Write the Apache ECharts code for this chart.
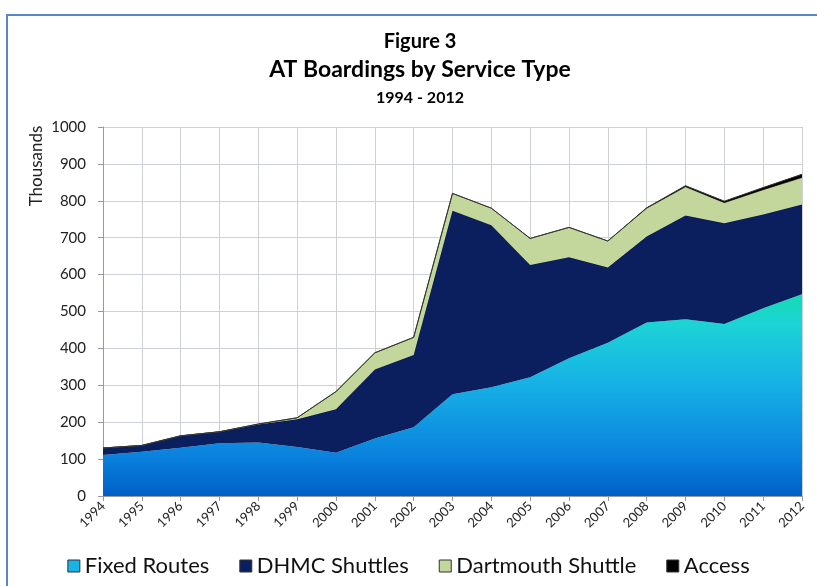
<!DOCTYPE html>
<html>
<head>
<meta charset="utf-8">
<script src="https://cdn.jsdelivr.net/npm/echarts@6/dist/echarts.min.js"></script>
<style>
html,body{margin:0;padding:0;background:#fff;}
#chart{width:817px;height:586px;}
</style>
</head>
<body>
<div id="chart"></div>
<script>
var years = ['1994','1995','1996','1997','1998','1999','2000','2001','2002','2003','2004','2005','2006','2007','2008','2009','2010','2011','2012'];
var fixedRoutes = [111,120,131,143,145,133,117,156,186,276,295,322,373,415,470,479,466,509,547];
var dhmcShuttles = [19,17,32,31,49,75,118,187,196,497,439,304,274,204,233,281,273,254,243];
var dartmouthShuttle = [0,0,0,0,1,4,48,45,48,47,46,72,81,72,77,78,56,67,73];
var access = [0,0,0,0,0,0,0,0,0,0,0,0,0,0,1,3,4,6,9];
var yTicks = [0,100,200,300,400,500,600,700,800,900,1000];

var FONT = 'Lato, "Noto Sans", sans-serif';
var chart = echarts.init(document.getElementById('chart'), null, {renderer:'canvas'});
var fixedGrad = new echarts.graphic.LinearGradient(0,0,0,1,[
  {offset:0, color:'#14dcb2'},
  {offset:0.15, color:'#1cd3d6'},
  {offset:0.45, color:'#16b0e6'},
  {offset:0.8, color:'#0a82de'},
  {offset:1, color:'#0060c6'}
]);
chart.setOption({
  animation:false,
  backgroundColor:'#ffffff',
  graphic:[
    {type:'rect', shape:{x:7,y:15,width:830,height:620}, style:{fill:'none', stroke:'#5a86c4', lineWidth:2}, silent:true},
    {type:'text', x:420, y:42, style:{text:'Figure 3', font:'bold 20px '+FONT, fill:'#000', textAlign:'center', textVerticalAlign:'middle'}},
    {type:'text', x:420, y:70, style:{text:'AT Boardings by Service Type', font:'bold 23px '+FONT, fill:'#000', textAlign:'center', textVerticalAlign:'middle'}},
    {type:'text', x:420, y:98, style:{text:'1994 - 2012', font:'bold 16px '+FONT, fill:'#000', textAlign:'center', textVerticalAlign:'middle'}},
    {type:'text', x:37, y:166, rotation:Math.PI/2, style:{text:'Thousands', font:'17px '+FONT, fill:'#222', textAlign:'center', textVerticalAlign:'middle'}}
  ],
  grid:{left:103, right:15, top:127, bottom:90, containLabel:false},
  legend:{
    bottom:4, left:'center', icon:'rect', itemWidth:12, itemHeight:12, itemGap:30,
    textStyle:{fontFamily:FONT, fontSize:22, color:'#111'},
    itemStyle:{borderColor:'#333', borderWidth:1},
    data:['Fixed Routes','DHMC Shuttles','Dartmouth Shuttle','Access']
  },
  xAxis:{
    type:'category', data:years, boundaryGap:false,
    axisLine:{lineStyle:{color:'#9a9a9a'}},
    axisTick:{show:true, length:5, lineStyle:{color:'#9a9a9a'}},
    axisLabel:{rotate:45, fontFamily:FONT, fontSize:13, color:'#222', margin:8},
    splitLine:{show:true, lineStyle:{color:'#cdd0d8', width:1}}
  },
  yAxis:{
    type:'value', min:0, max:1000, interval:100,
    axisLine:{show:true, lineStyle:{color:'#9a9a9a'}},
    axisTick:{show:true, length:5, lineStyle:{color:'#9a9a9a'}},
    axisLabel:{fontFamily:FONT, fontSize:15, color:'#222', margin:17,
      formatter:function(v){return yTicks.indexOf(v)>=0?String(v):'';}},
    splitLine:{show:true, lineStyle:{color:'#cdd0d8', width:1}}
  },
  series:[
    {name:'Fixed Routes', type:'line', stack:'total', data:fixedRoutes, symbol:'none',
      color:'#18b4e6', lineStyle:{width:0}, areaStyle:{color:fixedGrad, opacity:1}, z:2},
    {name:'DHMC Shuttles', type:'line', stack:'total', data:dhmcShuttles, symbol:'none',
      color:'#0b1f5e', lineStyle:{width:1, color:'#06143e'}, areaStyle:{color:'#0b1f5e', opacity:1}, z:3},
    {name:'Dartmouth Shuttle', type:'line', stack:'total', data:dartmouthShuttle, symbol:'none',
      color:'#c3d69b', lineStyle:{width:1, color:'#5a5f4a'}, areaStyle:{color:'#c3d69b', opacity:1}, z:4},
    {name:'Access', type:'line', stack:'total', data:access, symbol:'none',
      color:'#000000', lineStyle:{width:1, color:'#333'}, areaStyle:{color:'#000', opacity:1}, z:5}
  ]
});
</script>
</body>
</html>
